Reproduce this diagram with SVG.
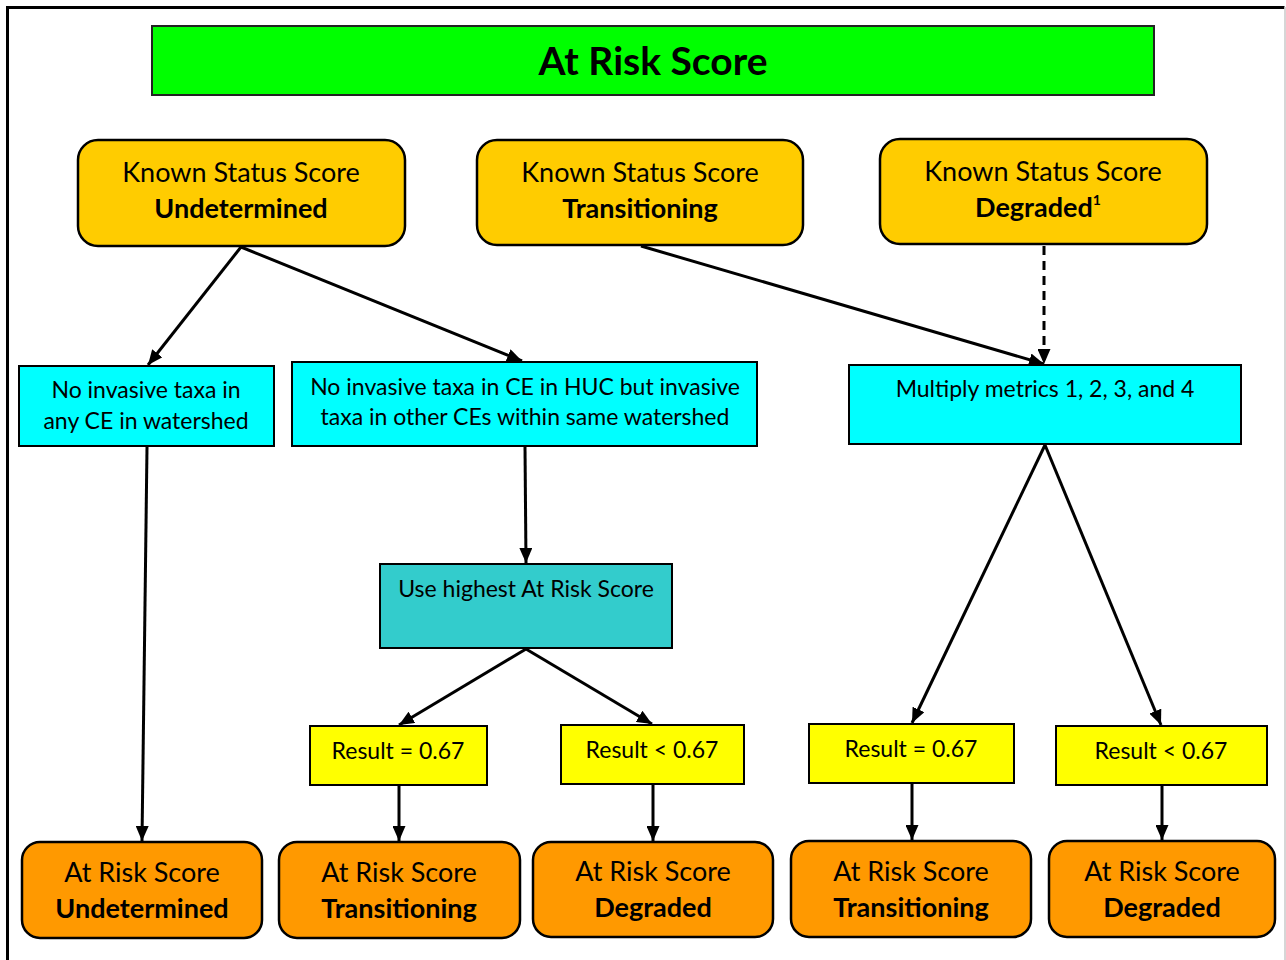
<svg xmlns="http://www.w3.org/2000/svg" width="1286" height="960" viewBox="0 0 1286 960">
  <defs>
    <marker id="arrow" viewBox="0 0 15 13" refX="15" refY="6.5" markerWidth="15" markerHeight="13" markerUnits="userSpaceOnUse" orient="auto">
      <path d="M0,0 L15,6.5 L0,13 Z" fill="#000"/>
    </marker>
    <style>
      text { font-family: Lato, "Liberation Sans", sans-serif; fill: #000; text-anchor: middle; }
      .title { font-size: 39px; font-weight: bold; }
      .head { font-size: 27px; }
      .headb { font-size: 27px; font-weight: bold; }
      .sup { font-size: 14px; font-weight: bold; }
      .cond { font-size: 23px; }
      .res { font-size: 23px; }
      .known { fill: #FFCC00; stroke: #000; stroke-width: 2.5; }
      .cyan { fill: #00FFFF; stroke: #000; stroke-width: 2; }
      .teal { fill: #33CCCC; stroke: #000; stroke-width: 2; }
      .yellow { fill: #FFFF00; stroke: #000; stroke-width: 2; }
      .final { fill: #FF9900; stroke: #000; stroke-width: 2.5; }
      .link { stroke: #000; stroke-width: 3; fill: none; marker-end: url(#arrow); }
      .dash { stroke-dasharray: 9 6; }
    </style>
  </defs>

  <rect width="1286" height="960" fill="#fff"/>
  <!-- page frame -->
  <path d="M7.5,960 V7.5 H1284.5" fill="none" stroke="#000" stroke-width="3"/>
  <line x1="1285" y1="7" x2="1285" y2="960" stroke="#c8c8c8" stroke-width="1.5"/>

  <g id="title">
    <rect x="152" y="26" width="1002" height="69" fill="#00FF00" stroke="#222" stroke-width="2"/>
    <text class="title" x="653" y="75">At Risk Score</text>
  </g>

  <!-- known status scores -->
  <g id="known-undetermined">
    <rect class="known" x="78" y="140" width="327" height="106" rx="20"/>
    <text class="head" x="241" y="182">Known Status Score</text>
    <text class="headb" x="241" y="218">Undetermined</text>
  </g>
  <g id="known-transitioning">
    <rect class="known" x="477" y="140" width="326" height="105" rx="20"/>
    <text class="head" x="640" y="182">Known Status Score</text>
    <text class="headb" x="640" y="218">Transitioning</text>
  </g>
  <g id="known-degraded">
    <rect class="known" x="880" y="139" width="327" height="105" rx="20"/>
    <text class="head" x="1043" y="181">Known Status Score</text>
    <text class="headb" x="1038" y="217">Degraded<tspan class="sup" dy="-12">1</tspan></text>
  </g>

  <!-- conditions -->
  <g id="no-invasive-watershed">
    <rect class="cyan" x="19" y="366" width="255" height="80"/>
    <text class="cond" x="146" y="398">No invasive taxa in</text>
    <text class="cond" x="146" y="429">any CE in watershed</text>
  </g>
  <g id="invasive-other-ces">
    <rect class="cyan" x="292" y="362" width="465" height="84"/>
    <text class="cond" x="525" y="395">No invasive taxa in CE in HUC but invasive</text>
    <text class="cond" x="525" y="425">taxa in other CEs within same watershed</text>
  </g>
  <g id="multiply-metrics">
    <rect class="cyan" x="849" y="365" width="392" height="79"/>
    <text class="cond" x="1045" y="397">Multiply metrics 1, 2, 3, and 4</text>
  </g>
  <g id="use-highest">
    <rect class="teal" x="380" y="564" width="292" height="84"/>
    <text class="cond" x="526" y="597">Use highest At Risk Score</text>
  </g>

  <!-- results -->
  <g id="result-eq-left">
    <rect class="yellow" x="310" y="726" width="177" height="59"/>
    <text class="res" x="398" y="759">Result = 0.67</text>
  </g>
  <g id="result-lt-left">
    <rect class="yellow" x="561" y="725" width="183" height="59"/>
    <text class="res" x="652" y="758">Result &lt; 0.67</text>
  </g>
  <g id="result-eq-right">
    <rect class="yellow" x="809" y="724" width="205" height="59"/>
    <text class="res" x="911" y="757">Result = 0.67</text>
  </g>
  <g id="result-lt-right">
    <rect class="yellow" x="1056" y="726" width="211" height="59"/>
    <text class="res" x="1161" y="759">Result &lt; 0.67</text>
  </g>

  <!-- at risk outcomes -->
  <g id="risk-undetermined">
    <rect class="final" x="22" y="842" width="240" height="96" rx="18"/>
    <text class="head" x="142" y="882">At Risk Score</text>
    <text class="headb" x="142" y="918">Undetermined</text>
  </g>
  <g id="risk-transitioning-left">
    <rect class="final" x="279" y="842" width="241" height="96" rx="18"/>
    <text class="head" x="399" y="882">At Risk Score</text>
    <text class="headb" x="399" y="918">Transitioning</text>
  </g>
  <g id="risk-degraded-left">
    <rect class="final" x="533" y="842" width="240" height="95" rx="18"/>
    <text class="head" x="653" y="881">At Risk Score</text>
    <text class="headb" x="653" y="917">Degraded</text>
  </g>
  <g id="risk-transitioning-right">
    <rect class="final" x="791" y="841" width="240" height="96" rx="18"/>
    <text class="head" x="911" y="881">At Risk Score</text>
    <text class="headb" x="911" y="917">Transitioning</text>
  </g>
  <g id="risk-degraded-right">
    <rect class="final" x="1049" y="841" width="226" height="96" rx="18"/>
    <text class="head" x="1162" y="881">At Risk Score</text>
    <text class="headb" x="1162" y="917">Degraded</text>
  </g>

  <g id="connectors">
    <line class="link" x1="241" y1="247" x2="148" y2="365"/>
    <line class="link" x1="241" y1="247" x2="522" y2="361"/>
    <line class="link" x1="641" y1="246" x2="1044" y2="364"/>
    <line class="link dash" x1="1044" y1="246" x2="1044" y2="364"/>
    <line class="link" x1="147" y1="447" x2="142" y2="841"/>
    <line class="link" x1="525" y1="447" x2="526" y2="563"/>
    <line class="link" x1="526" y1="649" x2="399" y2="725"/>
    <line class="link" x1="526" y1="649" x2="652" y2="724"/>
    <line class="link" x1="1045" y1="445" x2="912" y2="723"/>
    <line class="link" x1="1045" y1="445" x2="1161" y2="725"/>
    <line class="link" x1="399" y1="786" x2="399" y2="841"/>
    <line class="link" x1="653" y1="785" x2="653" y2="841"/>
    <line class="link" x1="912" y1="784" x2="912" y2="840"/>
    <line class="link" x1="1162" y1="786" x2="1162" y2="840"/>
  </g>
</svg>
